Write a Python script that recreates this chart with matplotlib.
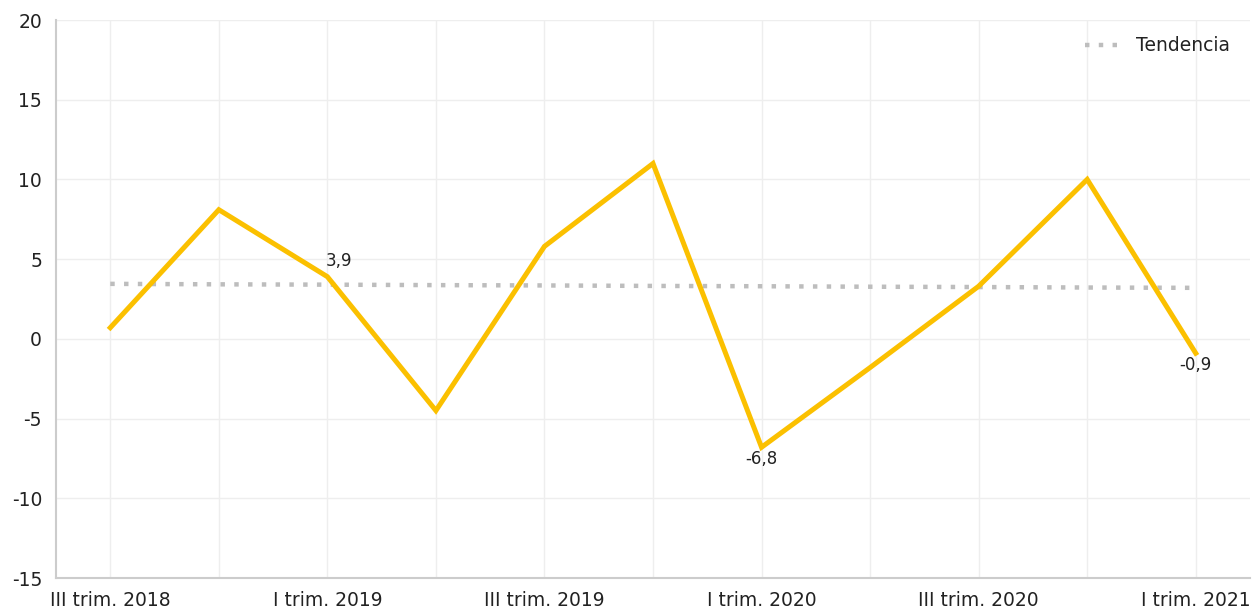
import matplotlib
matplotlib.use("Agg")
import matplotlib.pyplot as plt
import numpy as np

periods = ["III trim. 2018", "IV trim. 2018", "I trim. 2019", "II trim. 2019",
           "III trim. 2019", "IV trim. 2019", "I trim. 2020", "II trim. 2020",
           "III trim. 2020", "IV trim. 2020", "I trim. 2021"]
values = [0.7, 8.1, 3.9, -4.5, 5.8, 11.0, -6.8, -1.8, 3.3, 10.0, -0.9]
trend = [3.45, 3.42, 3.40, 3.37, 3.35, 3.32, 3.30, 3.27, 3.25, 3.22, 3.20]
labelled = {2: "3,9", 6: "-6,8", 10: "-0,9"}
yticks = [-15, -10, -5, 0, 5, 10, 15, 20]

plt.rcParams['font.family'] = ['DejaVu Sans']
fig = plt.figure(figsize=(12.52, 6.09), dpi=100)
ax = fig.add_axes([56/1252, 1-578/609, (1250-56)/1252, (578-20)/609])

x = np.arange(len(periods))
ax.plot(x, values, color="#FBC000", lw=3.6, solid_joinstyle="miter", zorder=3)
ax.plot(x, trend, color="#BDBDBD", lw=3.2, dashes=(1.0, 2.1), zorder=2, label="Tendencia")

for i, t in labelled.items():
    if i == 2:
        ax.annotate(t, (x[i], values[i]), xytext=(-1, 5), textcoords="offset points",
                    ha="left", va="bottom", fontsize=12, color="#222222")
    else:
        ax.annotate(t, (x[i], values[i]), xytext=(0, -2), textcoords="offset points",
                    ha="center", va="top", fontsize=12, color="#222222")

ax.set_xlim(-0.5, len(periods) - 0.5)
ax.set_ylim(-15, 20)
ax.set_yticks(yticks)
ax.set_yticklabels([str(v) for v in yticks])
ax.set_xticks(x)
ax.set_xticklabels([p if i % 2 == 0 else "" for i, p in enumerate(periods)])
ax.tick_params(length=0, labelsize=13.5, colors="#222222")
ax.tick_params(axis="y", pad=10)
ax.tick_params(axis="x", pad=9)
ax.grid(True, color="#EEEEEE", lw=1)
ax.set_axisbelow(True)
for s in ["top", "right"]:
    ax.spines[s].set_visible(False)
for s in ["left", "bottom"]:
    ax.spines[s].set_color("#CCCCCC")
    ax.spines[s].set_linewidth(1.5)

leg = ax.legend(loc="upper right", frameon=False, fontsize=13.5, handlelength=1.7,
                handletextpad=1.0, bbox_to_anchor=(0.994, 0.994), borderaxespad=0.3)
for t in leg.get_texts():
    t.set_color("#222222")

fig.savefig("out.png", dpi=100)
